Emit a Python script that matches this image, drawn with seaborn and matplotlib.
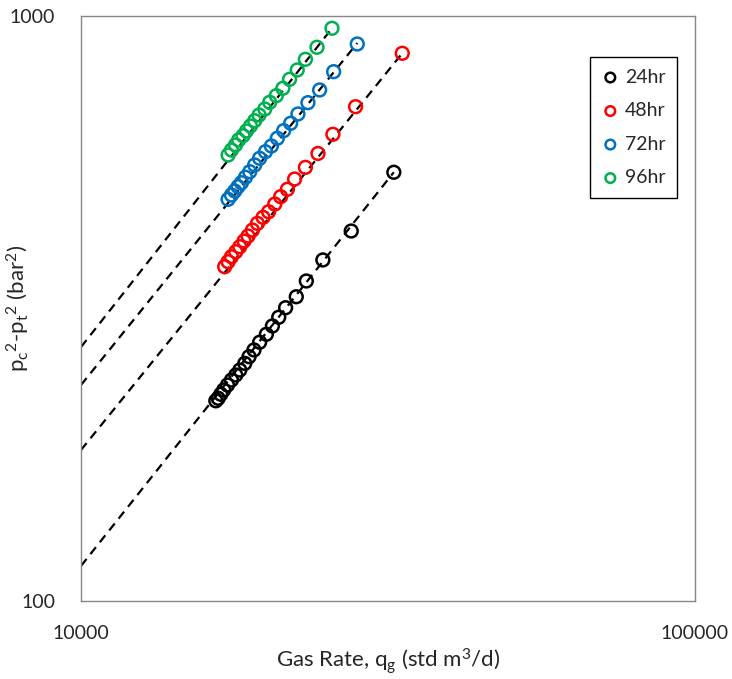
import numpy as np
import pandas as pd
import matplotlib
matplotlib.use('Agg')
import matplotlib.pyplot as plt
import seaborn as sns
from matplotlib.ticker import FuncFormatter, NullFormatter, LogLocator

# Gas rate (std m3/d) and pc^2 - pt^2 (bar^2) for each test duration
q_24 = [16580, 16725, 16890, 17080, 17320, 17580, 17870, 18140, 18480, 18780, 19130,
        19540, 20040, 20500, 20990, 21540, 22420, 23280, 24770, 27550, 32320]
dp_24 = [219.9, 222.1, 225.6, 229.5, 234.0, 238.6, 243.4, 248.2, 254.8, 261.6, 268.6,
         276.9, 285.7, 295.2, 305.5, 317.2, 331.2, 352.4, 382.8, 429.0, 540.6]

q_48 = [17140, 17360, 17580, 17870, 18140, 18430, 18710, 19020, 19380, 19790,
        20210, 20680, 21140, 21680, 22280, 23200, 24320, 25720, 28000, 33360]
dp_48 = [372.8, 380.2, 387.7, 395.4, 403.3, 412.4, 420.6, 430.6, 442.1, 452.7,
         462.8, 477.0, 491.0, 505.5, 526.4, 551.2, 582.1, 627.8, 699.8, 863.5]

q_72 = [17360, 17580, 17800, 18020, 18250, 18530, 18830, 19180, 19540, 19970,
        20420, 20880, 21380, 21950, 22560, 23420, 24470, 25790, 28180]
dp_72 = [486.0, 494.3, 502.2, 510.8, 518.8, 530.1, 541.8, 556.3, 571.2, 586.2,
         599.5, 618.0, 636.8, 655.6, 680.0, 711.0, 747.4, 803.2, 895.7]

q_96 = [17360, 17580, 17850, 18060, 18360, 18600, 18880, 19180, 19500,
        19920, 20290, 20800, 21320, 21860, 22500, 23200, 24230, 25630]
dp_96 = [578.6, 590.1, 601.9, 613.8, 624.3, 636.0, 648.6, 662.2, 677.2,
         693.4, 712.0, 730.8, 752.4, 779.5, 808.6, 843.3, 884.3, 952.8]

labels = ['24hr', '48hr', '72hr', '96hr']
colors = ['#000000', '#FF0000', '#0070C0', '#00B050']

# backpressure fit lines: dp = C * (q / 10000) ** n
fit_c = [114.8, 181.2, 234.0, 271.7]
fit_n = [1.321, 1.296, 1.299, 1.333]

rates = [q_24, q_48, q_72, q_96]
dps = [dp_24, dp_48, dp_72, dp_96]

sns.set_style('white')
plt.rcParams['font.family'] = ['Lato', 'DejaVu Sans']
plt.rcParams['mathtext.default'] = 'regular'

fig = plt.figure(figsize=(7.32, 6.79), dpi=100)
ax = fig.add_axes([81 / 732, 78 / 679, 614 / 732, 585 / 679])

for q, dp, lab, col, c, n in zip(rates, dps, labels, colors, fit_c, fit_n):
    qq = np.geomspace(10000, q[-1], 50)
    line = pd.DataFrame({'q': qq, 'dp': c * (qq / 10000) ** n})
    sns.lineplot(data=line, x='q', y='dp', ax=ax, color='black', lw=1.6,
                 linestyle=(0, (4, 2.8)), legend=False, zorder=2)

for q, dp, lab, col in zip(rates, dps, labels, colors):
    pts = pd.DataFrame({'q': q, 'dp': dp})
    sns.scatterplot(data=pts, x='q', y='dp', ax=ax, marker='o', s=85,
                    facecolor='none', edgecolor=col, linewidth=1.8,
                    label=lab, zorder=3)

ax.set_xscale('log')
ax.set_yscale('log')
ax.set_xlim(10000, 100000)
ax.set_ylim(100, 1000)

fmt = FuncFormatter(lambda v, p: '%d' % v)
ax.xaxis.set_major_formatter(fmt)
ax.yaxis.set_major_formatter(fmt)
ax.xaxis.set_minor_formatter(NullFormatter())
ax.yaxis.set_minor_formatter(NullFormatter())
ax.xaxis.set_minor_locator(LogLocator(base=10, subs=np.arange(2, 10)))
ax.yaxis.set_minor_locator(LogLocator(base=10, subs=np.arange(2, 10)))

for s in ax.spines.values():
    s.set_color('#868686')
    s.set_linewidth(1.0)

ax.tick_params(which='major', direction='inout', length=9, width=1,
               color='#868686', labelsize=14, pad=14)
ax.tick_params(which='minor', direction='in', length=4, width=1,
               color='#868686')
ax.tick_params(axis='x', which='major', pad=13)

ax.set_xlabel(r'Gas Rate, q$_g$ (std m$^3$/d)', fontsize=16)
ax.set_ylabel(r'p$_c$$^2$-p$_t$$^2$ (bar$^2$)', fontsize=16)
ax.xaxis.set_label_coords(0.5, -0.078)
ax.yaxis.set_label_coords(-0.080, 0.5)

leg = ax.legend(loc='upper right', bbox_to_anchor=(0.971, 0.930),
                borderaxespad=0, fontsize=14, frameon=True, fancybox=False,
                edgecolor='black', framealpha=1, labelspacing=0.85,
                handletextpad=0.3, handlelength=0.9, borderpad=0.6,
                markerscale=0.75)
leg.get_frame().set_linewidth(1.0)

fig.savefig('out.png', dpi=100)
